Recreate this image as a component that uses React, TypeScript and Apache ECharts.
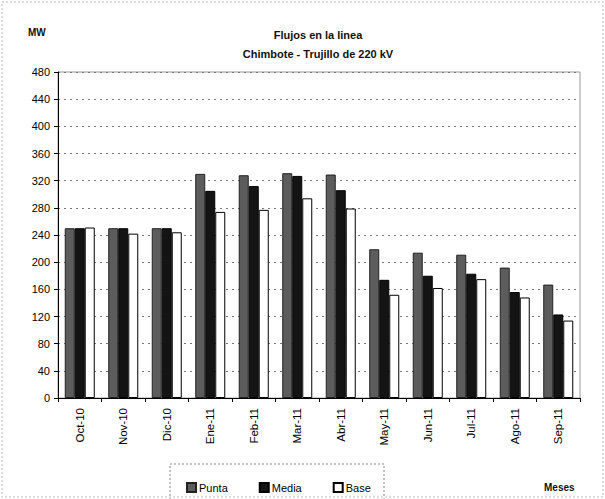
import React, { useEffect, useRef } from "react";
import * as echarts from "echarts";

const categories = ["Oct-10", "Nov-10", "Dic-10", "Ene-11", "Feb-11", "Mar-11", "Abr-11", "May-11", "Jun-11", "Jul-11", "Ago-11", "Sep-11"];
const punta = [250, 250, 250, 330, 328, 331, 329, 219, 214, 211, 192, 167];
const media = [250, 250, 250, 305, 312, 327, 306, 174, 180, 183, 156, 123];
const base = [251, 242, 244, 274, 277, 294, 279, 152, 162, 175, 148, 114];
const titleLines = ["Flujos en la linea", "Chimbote - Trujillo de 220 kV"];

export default function App() {
  const ref = useRef<HTMLDivElement>(null);
  useEffect(() => {
    if (!ref.current) return;
    const chart = echarts.init(ref.current, null, { renderer: "svg" });
    const font = "'Liberation Sans', Arial, sans-serif";
    const barBase = { type: "bar", barGap: "0%", barCategoryGap: "31%" };
    chart.setOption({
      animation: false,
      backgroundColor: "#fff",
      textStyle: { fontFamily: font, color: "#000" },
      title: {
        text: titleLines.join("\n"),
        left: 313,
        textAlign: "center",
        top: 20,
        textStyle: { fontSize: 11, fontWeight: "bold", lineHeight: 19, color: "#111" },
      },
      legend: {
        left: 181,
        top: 477,
        itemWidth: 9,
        itemHeight: 9,
        itemGap: 31,
        icon: "rect",
        textStyle: { fontSize: 11, color: "#000", padding: [0, 0, 0, -2] },
        data: ["Punta", "Media", "Base"],
      },
      grid: {
        left: 58,
        right: 25,
        top: 72,
        bottom: 101,
        show: true,
        borderColor: "#999",
        borderWidth: 1,
      },
      graphic: [
        { type: "rect", shape: { x: 2, y: 2, width: 601, height: 495 }, style: { fill: "none", stroke: "#bbb", lineDash: [2, 2] }, silent: true },
        { type: "rect", shape: { x: 170, y: 464, width: 214, height: 40 }, style: { fill: "none", stroke: "#888", lineDash: [2, 2] }, silent: true },
        { type: "text", left: 28, top: 27, style: { text: "MW", font: `bold 10px ${font}`, fill: "#111" } },
        { type: "text", left: 544, top: 482, style: { text: "Meses", font: `bold 10px ${font}`, fill: "#111" } },
      ],
      xAxis: {
        type: "category",
        data: categories,
        axisLine: { lineStyle: { color: "#000" } },
        axisTick: { show: true, length: 4, lineStyle: { color: "#000" } },
        axisLabel: { rotate: 90, fontSize: 11.5, color: "#000", margin: 10 },
        splitLine: { show: false },
      },
      yAxis: {
        type: "value",
        min: 0,
        max: 480,
        interval: 40,
        axisLine: { show: true, lineStyle: { color: "#000" } },
        axisTick: { show: true, length: 4, lineStyle: { color: "#000" } },
        axisLabel: { fontSize: 11, color: "#000", margin: 8 },
        splitLine: { lineStyle: { color: "#777", type: [2, 4] } },
      },
      series: [
        { ...barBase, name: "Punta", data: punta, itemStyle: { color: "#5c5c5c", borderColor: "#222", borderWidth: 1 } },
        { ...barBase, name: "Media", data: media, itemStyle: { color: "#141414", borderColor: "#000", borderWidth: 1 } },
        { ...barBase, name: "Base", data: base, itemStyle: { color: "#fff", borderColor: "#000", borderWidth: 1 } },
      ],
    });
    return () => chart.dispose();
  }, []);
  return <div ref={ref} style={{ position: "fixed", left: 0, top: 0, width: 605, height: 499 }} />;
}
